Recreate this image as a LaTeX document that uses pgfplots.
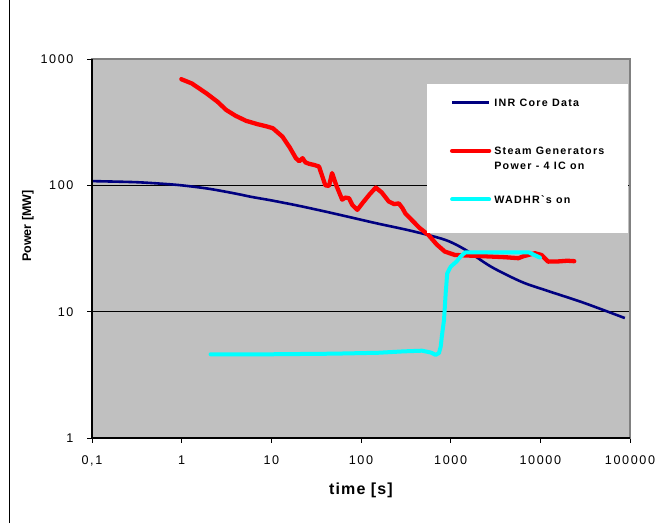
\documentclass[border=0pt]{standalone}
\usepackage{fontspec}
\setmainfont{Liberation Sans}
\newfontfamily\tickfont[LetterSpace=13]{Liberation Sans}
\newfontfamily\legfont[LetterSpace=12]{Liberation Sans}
\newfontfamily\xlabfont[LetterSpace=7]{Liberation Sans}
\usepackage{pgfplots}
\pgfplotsset{compat=1.18}
\definecolor{bgray}{RGB}{192,192,192}
\definecolor{navyb}{RGB}{0,0,128}
\definecolor{cyanb}{RGB}{0,255,255}
\definecolor{redb}{RGB}{255,0,0}
\begin{document}
\begin{tikzpicture}[x=1pt,y=1pt]
\useasboundingbox (0,0) rectangle (657,523);
\draw[black, line width=0.9pt] (9.5,0) -- (9.5,523);
\begin{axis}[
  name=ax,
  at={(92pt,85pt)}, anchor=south west,
  scale only axis, width=538pt, height=379pt,
  xmode=log, ymode=log,
  xmin=0.1, xmax=100000, ymin=1, ymax=1000,
  axis background/.style={fill=bgray},
  axis line style={draw=gray, line width=1.3pt},
  xtick={0.1,1,10,100,1000,10000,100000},
  xticklabels={{0,1},1,10,100,1000,10000,100000},
  ytick={1,10,100,1000},
  yticklabels={1,10,100,1000},
  xtick pos=bottom, ytick pos=left,
  xminorticks=false, yminorticks=false,
  tick align=outside, major tick length=5pt,
  tick style={black, line width=0.7pt},
  ymajorgrids, grid style={black, line width=0.8pt},
  /pgf/number format/assume math mode=true,
  tick label style={font=\tickfont\fontsize{12.6}{14}\selectfont},
  xticklabel style={yshift=-9pt},
  yticklabel style={xshift=-10pt},
  xlabel={time [s]},
  ylabel={Power [MW]},
  xlabel style={font=\xlabfont\bfseries\fontsize{16}{18}\selectfont, at={(axis description cs:0.5,-0.137)}, anchor=center},
  ylabel style={font=\bfseries\fontsize{12.5}{14}\selectfont, at={(axis description cs:-0.119,0.559)}, anchor=center, rotate=0},
  legend style={at={(rel axis cs:0.6654,0.8971)}, anchor=north west,
    draw=none, fill=none, inner sep=0pt, outer sep=0pt,
    row sep=40.5pt, column sep=3pt,
    font=\legfont\bfseries\fontsize{10.7}{14.7}\selectfont,
    nodes={inner sep=0pt, outer sep=0pt, text height=8pt, text depth=0pt, anchor=base west},
    cells={anchor=base west}},
  legend image code/.code={\draw[#1] (0pt,3.6pt) -- (37pt,3.6pt);},
]
\addplot[navyb, line width=2.6pt, smooth] coordinates {
(0.1,108) (0.3,106) (0.6,103) (1,100) (2,94) (4,86) (6,81) (10,76) (20,69) (40,62) (75,56) (150,50) (370,43.5) (870,37) (1470,30.8) (2850,22.6) (6200,17.2) (11400,14.8) (30000,11.8) (87600,8.9)
};
\addlegendentry{INR Core Data}
\addplot[redb, line width=4.3pt, line join=round, line cap=round] coordinates {
(0.99,692) (1.3,640) (1.88,536) (2.5,460) (3.14,395) (4.0,355) (5.23,324) (7,305) (9,292) (10.4,283) (13.3,243) (16,200) (18.8,164) (20.5,155) (22.3,164) (24,152) (26.4,148) (30,145) (34,141) (37,118) (40,100) (44,99) (47.6,125) (53,100) (61.7,77) (67,80) (73.6,79) (80,70) (91,64) (105,73) (125,85) (146,96) (170,88) (204,74.5) (235,71) (264,72) (290,66) (312,60) (370,53) (450,46) (565,40.5) (700,34) (861,29.9) (1115,28.1) (2030,27.6) (4000,27) (5700,26.5) (6500,27.5) (8720,29) (10300,28.1) (12200,24.9) (16000,25) (20000,25.3) (23900,25.1)
};
\addlegendentry{\begin{tabular}[t]{@{}l@{}}Steam Generators\\Power - 4 IC on\end{tabular}}
\addplot[cyanb, line width=4pt, line join=round, line cap=round] coordinates {
(2.1,4.6) (10,4.6) (50,4.65) (158,4.73) (300,4.85) (479,4.91) (600,4.75) (680,4.55) (740,4.7) (775,5.3) (800,6.5) (843,8.6) (880,14) (915,20.1) (1000,22.7) (1160,24.9) (1300,27.5) (1460,29.5) (3000,29.5) (7400,29.5) (9900,26.8)
};
\addlegendentry{WADHR`s on}
\fill[white] (rel axis cs:0.6227,0.5409) rectangle (rel axis cs:0.997,0.934);
\end{axis}
\draw[black, line width=1.3pt] (ax.north west) -- (ax.south west) -- (ax.south east);
\end{tikzpicture}
\end{document}
